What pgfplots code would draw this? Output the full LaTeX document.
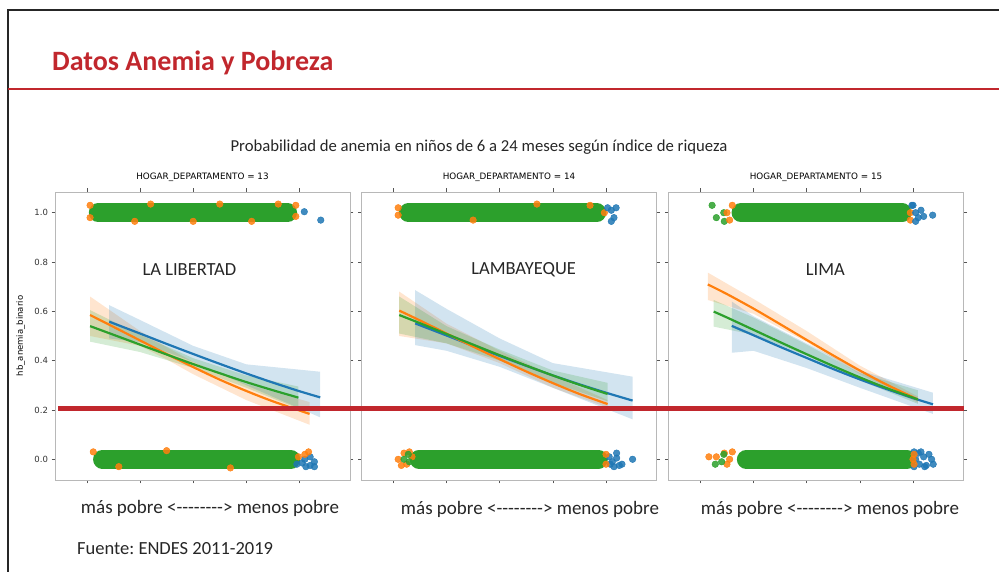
\documentclass[border=0pt]{standalone}
\usepackage{fontspec}
\setmainfont{Carlito}
\newfontfamily\dejavu{DejaVu Sans}
\usepackage{pgfplots}
\pgfplotsset{compat=1.18}
\frenchspacing
\definecolor{tblue}{HTML}{1F77B4}
\definecolor{torange}{HTML}{FF7F0E}
\definecolor{tgreen}{HTML}{2CA02C}
\definecolor{slidered}{HTML}{C1272D}
\definecolor{axgray}{HTML}{B8B8B8}
\definecolor{tickgray}{HTML}{555555}
\pgfplotsset{
  panel/.style={
    width=295pt, height=288pt, scale only axis,
    xmin=-0.6, xmax=4.95, ymin=-0.084, ymax=1.084,
    xtick={0,1,2,3,4}, xticklabels={},
    ytick={0,0.2,0.4,0.6,0.8,1.0},
    tick align=outside,
    major tick length=3.5pt,
    tick style={color=tickgray, line width=0.6pt},
    axis line style={axgray, line width=0.8pt},
    /pgf/number format/assume math mode=true,
    yticklabel style={font=\dejavu\fontsize{8.5}{10}\selectfont, text=black!80,
      /pgf/number format/.cd, fixed, fixed zerofill, precision=1},
    title style={font=\dejavu\fontsize{8.8}{10}\selectfont, at={(0.5,1)}, anchor=south, yshift=0.5pt},
    label style={font=\dejavu\fontsize{8.5}{10}\selectfont},
  },
  band/.style={draw=none, fill=#1, fill opacity=0.2},
  fit/.style={color=#1, line width=2.2pt, smooth},
  jit/.style={only marks, color=#1, mark=*, mark size=3.3pt, mark options={draw=none, fill=#1}, fill opacity=0.85},
  strip/.style={color=#1, line width=18.5pt, line cap=round},
}
\begin{document}
\begin{tikzpicture}
\path[use as bounding box] (0,0) rectangle (999pt,572pt);
% slide frame
\draw[black!85, line width=2pt] (8pt,0pt) -- (8pt,562pt) -- (999pt,562pt);
\draw[slidered, line width=1.8pt] (8pt,483pt) -- (999pt,483pt);
\node[anchor=base west, text=slidered, font=\fontsize{28}{32}\selectfont\bfseries, inner sep=0pt] at (52pt,501pt) {Datos Anemia y Pobreza};
\node[anchor=base, font=\fontsize{16.7}{20}\selectfont, text=black!85, inner sep=0pt] at (479pt,420.5pt) {Probabilidad de anemia en niños de 6 a 24 meses según índice de riqueza};

% ---------- Panel 1: LA LIBERTAD ----------
\begin{axis}[panel, at={(55pt,92pt)}, anchor=south west,
  title={HOGAR\_DEPARTAMENTO = 13},
  ylabel={hb\_anemia\_binario},
  ylabel style={at={(axis description cs:-0.09,0.5)}}]
% scatter y=1
\addplot[jit=torange] coordinates {(0.06,1.03)(0.06,0.98)(3.93,1.03)(3.93,0.985)(1.2,1.035)(2.5,1.035)(3.1,0.965)(0.9,0.965)(2.0,0.965)(3.6,1.035)};
\addplot[strip=tgreen] coordinates {(0.21,1.0)(3.78,1.0)};
\addplot[jit=tblue] coordinates {(4.09,1.004)(4.4,0.97)};
% scatter y=0
\addplot[jit=tblue] coordinates {(4.05,-0.015)(4.12,-0.03)(4.2,-0.025)(4.28,-0.01)(4.28,-0.03)(4.2,0.01)(4.1,0.0)(3.95,-0.02)};
\addplot[jit=torange] coordinates {(0.12,0.03)(3.98,0.01)(4.1,0.02)(4.17,0.03)(1.5,0.035)(2.7,-0.035)(0.6,-0.03)};
\addplot[strip=tgreen] coordinates {(0.29,0.0)(3.84,0.0)};
% bands
\addplot[band=torange] coordinates {(0.06,0.66)(1,0.52)(1.5,0.455)(2,0.395)(3,0.305)(4.19,0.232)(4.19,0.14)(3,0.24)(2,0.345)(1.5,0.405)(1,0.46)(0.06,0.50)} -- cycle;
\addplot[band=tblue] coordinates {(0.42,0.625)(1,0.565)(2,0.46)(3,0.385)(4.39,0.355)(4.39,0.17)(3,0.30)(2,0.395)(1,0.475)(0.42,0.49)} -- cycle;
\addplot[band=tgreen] coordinates {(0.06,0.605)(1,0.505)(2,0.41)(3,0.34)(3.98,0.295)(3.98,0.205)(3,0.29)(2,0.37)(1,0.435)(0.06,0.477)} -- cycle;
% fits
\addplot[fit=tblue] coordinates {(0.42,0.558)(1,0.510)(1.5,0.468)(2,0.427)(2.5,0.387)(3,0.348)(3.5,0.311)(4,0.276)(4.39,0.251)};
\addplot[fit=torange] coordinates {(0.06,0.585)(0.5,0.537)(1,0.482)(1.5,0.427)(2,0.374)(2.5,0.323)(3,0.277)(3.5,0.235)(4.19,0.184)};
\addplot[fit=tgreen] coordinates {(0.06,0.54)(0.5,0.505)(1,0.465)(1.5,0.425)(2,0.386)(2.5,0.349)(3,0.313)(3.5,0.280)(3.98,0.25)};
\node[font=\fontsize{18.5}{22}\selectfont, text=black!85] at (axis cs:1.93,0.77) {LA LIBERTAD};
\end{axis}

% ---------- Panel 2: LAMBAYEQUE ----------
\begin{axis}[panel, at={(361.5pt,92pt)}, anchor=south west,
  title={HOGAR\_DEPARTAMENTO = 14}, yticklabels={}]
\addplot[jit=torange] coordinates {(0.09,1.02)(0.09,0.99)(3.7,1.03)(3.97,1.0)(1.5,0.97)(2.7,1.035)};
\addplot[strip=tgreen] coordinates {(0.28,1.0)(3.83,1.0)};
\addplot[jit=tblue] coordinates {(4.03,1.02)(4.1,1.01)(4.19,1.02)(4.15,0.98)(4.1,0.965)};
\addplot[jit=tblue] coordinates {(4.06,0.01)(4.12,-0.01)(4.2,0.005)(4.25,-0.025)(4.15,-0.03)(4.3,-0.02)(4.5,0.0)(4.08,-0.02)(4.2,0.025)};
\addplot[jit=torange] coordinates {(0.09,0.0)(0.2,0.025)(0.25,-0.02)(0.35,0.01)(0.15,-0.025)(0.3,0.03)(4.0,0.02)(4.0,-0.02)};
\addplot[jit=tgreen] coordinates {(0.2,0.0)(0.3,-0.01)(0.28,0.02)};
\addplot[strip=tgreen] coordinates {(0.48,0.0)(3.86,0.0)};
\addplot[band=torange] coordinates {(0.11,0.68)(1,0.55)(2,0.44)(3,0.34)(4.03,0.24)(4.03,0.21)(3,0.29)(2,0.39)(1,0.47)(0.11,0.50)} -- cycle;
\addplot[band=tblue] coordinates {(0.41,0.686)(1,0.61)(2,0.49)(3,0.39)(4.5,0.335)(4.5,0.162)(3,0.29)(2,0.375)(1,0.44)(0.41,0.463)} -- cycle;
\addplot[band=tgreen] coordinates {(0.11,0.66)(1,0.54)(2,0.445)(3,0.36)(4.03,0.31)(4.03,0.235)(3,0.31)(2,0.40)(1,0.47)(0.11,0.51)} -- cycle;
\addplot[fit=tblue] coordinates {(0.41,0.551)(1,0.502)(1.5,0.460)(2,0.419)(2.5,0.379)(3,0.340)(3.5,0.304)(4,0.270)(4.5,0.238)};
\addplot[fit=torange] coordinates {(0.11,0.603)(0.5,0.563)(1,0.510)(1.5,0.457)(2,0.406)(2.5,0.356)(3,0.309)(3.5,0.265)(4.03,0.224)};
\addplot[fit=tgreen] coordinates {(0.11,0.585)(0.5,0.552)(1,0.508)(1.5,0.465)(2,0.422)(2.5,0.380)(3,0.340)(3.5,0.302)(4.03,0.265)};
\node[font=\fontsize{18.5}{22}\selectfont, text=black!85] at (axis cs:2.45,0.77) {LAMBAYEQUE};
\end{axis}

% ---------- Panel 3: LIMA ----------
\begin{axis}[panel, at={(668.5pt,92pt)}, anchor=south west,
  title={HOGAR\_DEPARTAMENTO = 15}, yticklabels={}]
\addplot[jit=tgreen] coordinates {(0.22,1.03)(0.3,0.98)(0.44,1.0)(0.45,0.965)};
\addplot[jit=torange] coordinates {(0.5,1.0)(0.55,0.97)(0.6,1.03)(3.95,1.0)(3.95,0.97)};
\addplot[jit=tblue] coordinates {(4.0,1.03)(4.05,1.0)(4.1,0.98)(4.15,1.01)(4.2,0.985)(4.37,0.99)(4.05,0.965)(3.98,1.03)};
\addplot[strip=tgreen] coordinates {(0.76,1.0)(3.80,1.0)};
\addplot[jit=tblue] coordinates {(4.05,0.0)(4.1,0.025)(4.12,-0.02)(4.2,0.01)(4.25,-0.025)(4.3,0.02)(4.35,0.0)(4.38,-0.02)(4.15,0.03)(4.22,-0.03)(4.02,0.03)(4.02,-0.03)};
\addplot[jit=torange] coordinates {(0.16,0.01)(0.3,0.01)(0.45,0.025)(0.5,-0.02)(0.55,0.0)(0.6,0.03)(4.0,0.0)(4.02,-0.02)(4.02,0.02)};
\addplot[jit=tgreen] coordinates {(0.28,-0.02)(0.4,-0.01)(0.44,0.02)};
\addplot[strip=tgreen] coordinates {(0.86,0.0)(3.89,0.0)};
\addplot[band=torange] coordinates {(0.14,0.757)(1,0.65)(2,0.52)(3,0.38)(4.09,0.255)(4.09,0.23)(3,0.345)(2,0.475)(1,0.59)(0.14,0.646)} -- cycle;
\addplot[band=tgreen] coordinates {(0.25,0.646)(1,0.575)(2,0.465)(3,0.35)(4.09,0.28)(4.09,0.225)(3,0.32)(2,0.42)(1,0.505)(0.25,0.538)} -- cycle;
\addplot[band=tblue] coordinates {(0.59,0.64)(1,0.58)(2,0.47)(3,0.36)(4.375,0.27)(4.375,0.184)(3,0.29)(2,0.37)(1,0.44)(0.59,0.432)} -- cycle;
\addplot[fit=tblue] coordinates {(0.59,0.541)(1,0.503)(1.5,0.456)(2,0.411)(2.5,0.366)(3,0.324)(3.5,0.285)(4,0.248)(4.375,0.223)};
\addplot[fit=torange] coordinates {(0.14,0.709)(0.5,0.670)(1,0.611)(1.5,0.548)(2,0.484)(2.5,0.421)(3,0.360)(3.5,0.303)(4.09,0.243)};
\addplot[fit=tgreen] coordinates {(0.25,0.599)(0.5,0.575)(1,0.525)(1.5,0.475)(2,0.426)(2.5,0.378)(3,0.332)(3.5,0.289)(4.09,0.243)};
\node[font=\fontsize{18.5}{22}\selectfont, text=black!85] at (axis cs:2.35,0.77) {LIMA};
\end{axis}

% red threshold line
\draw[slidered, line width=4.5pt] (58pt,163.3pt) -- (964pt,163.3pt);

% bottom labels
\node[anchor=base, font=\fontsize{19}{22}\selectfont, text=black!85, inner sep=0pt] at (210pt,58.7pt) {más pobre <{-}{-}{-}{-}{-}{-}{-}{-}> menos pobre};
\node[anchor=base, font=\fontsize{19}{22}\selectfont, text=black!85, inner sep=0pt] at (530pt,57pt) {más pobre <{-}{-}{-}{-}{-}{-}{-}{-}> menos pobre};
\node[anchor=base, font=\fontsize{19}{22}\selectfont, text=black!85, inner sep=0pt] at (830pt,57pt) {más pobre <{-}{-}{-}{-}{-}{-}{-}{-}> menos pobre};
\node[anchor=base west, font=\fontsize{18.5}{22}\selectfont, text=black!85, inner sep=0pt] at (77pt,17pt) {Fuente: ENDES 2011-2019};
\end{tikzpicture}
\end{document}
